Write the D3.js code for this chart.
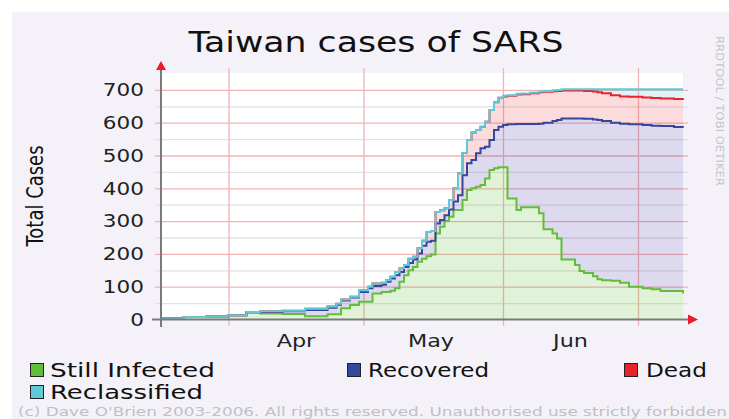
<!DOCTYPE html>
<html><head>
<meta charset="utf-8">
<script src="https://d3js.org/d3.v7.min.js"></script>
<style>
  body { margin: 0; background: #fff; }
  text { font-family: "DejaVu Sans", sans-serif; }
</style>
</head>
<body>
<svg id="chart" width="729" height="419"></svg>
<script>

// data (values per stacked layer, step changes)
const dates = ["2003-03-17","2003-03-22","2003-03-27","2003-04-01","2003-04-05","2003-04-08","2003-04-13",
  "2003-04-18","2003-04-23","2003-04-25","2003-04-26","2003-04-28","2003-04-30","2003-05-02","2003-05-03",
  "2003-05-05","2003-05-06","2003-05-07","2003-05-08","2003-05-09","2003-05-10","2003-05-11","2003-05-12",
  "2003-05-13","2003-05-14","2003-05-15","2003-05-16","2003-05-17","2003-05-18","2003-05-19","2003-05-20",
  "2003-05-21","2003-05-22","2003-05-23","2003-05-24","2003-05-25","2003-05-26","2003-05-27","2003-05-28",
  "2003-05-29","2003-05-30","2003-05-31","2003-06-01","2003-06-02","2003-06-04","2003-06-05","2003-06-07",
  "2003-06-09","2003-06-10","2003-06-12","2003-06-13","2003-06-14","2003-06-17","2003-06-18","2003-06-19",
  "2003-06-21","2003-06-22","2003-06-23","2003-06-25","2003-06-27","2003-06-29","2003-07-02","2003-07-04",
  "2003-07-06","2003-07-09","2003-07-11"];
const stillInfected = [3,8,10,13,21,18,17,10,16,16,34,44,54,54,79,84,84,88,95,115,135,150,160,176,185,193,198,
  262,283,300,313,334,334,364,395,400,405,410,430,456,461,464,464,369,334,342,342,324,275,262,247,183,166,148,
  142,132,123,120,118,112,100,95,92,87,87,79];
const recovered = [0,0,0,0,1,5,8,19,20,29,24,23,30,41,23,22,31,37,40,30,25,22,23,25,40,44,42,31,20,18,22,26,45,
  76,81,86,102,112,97,91,117,124,129,226,262,254,254,273,325,343,361,430,447,465,470,478,485,485,482,485,495,
  498,499,503,500,506];
const dead = [0,0,0,0,1,2,2,4,4,3,3,2,5,5,8,6,5,5,10,11,6,13,8,16,15,30,30,35,30,21,29,40,67,68,71,84,71,66,76,
  92,84,88,87,87,90,91,94,96,94,91,89,85,85,85,85,85,85,85,84,83,84,84,84,84,85,85];
const reclassified = [0,0,0,0,0,0,0,0,0,0,0,0,0,0,0,0,0,0,0,0,0,0,0,0,0,0,0,0,0,0,0,0,0,0,0,0,0,0,0,0,0,0,2,
  2,2,2,2,2,3,3,3,4,4,4,5,7,9,12,18,22,23,25,27,28,30,32];

const seriesKeys = ["infected","recovered","dead","reclassified"];
const seriesNames = ["Still Infected","Recovered","Dead","Reclassified"];
const lineColors = ["#62be38","#33479f","#e8232b","#62c9d7"];
const fillColors = ["rgba(98,190,56,0.2)","rgba(72,58,170,0.19)","rgba(236,40,52,0.17)","rgba(98,201,215,0.2)"];
const yTicks = [0,100,200,300,400,500,600,700];
const monthLabels = ["Apr","May","Jun"];

const parse = d3.timeParse("%Y-%m-%d");
const rows = dates.map((d,i) => ({date: parse(d), infected: stillInfected[i], recovered: recovered[i],
  dead: dead[i], reclassified: reclassified[i]}));

const svg = d3.select("#chart");
const sx = 1.24;   // the picture is stretched sideways, text too

svg.append("rect").attr("x",12).attr("y",12).attr("width",729).attr("height",419).attr("fill","#f4f2f8");

let x = d3.scaleTime().domain([parse("2003-03-17"), parse("2003-07-11")]).range([161,683]);
let y = d3.scaleLinear().domain([0,750]).range([319.5,73.5]);

svg.append("rect").attr("x",161).attr("y",73).attr("width",522).attr("height",246.5).attr("fill","#fff");

// gridlines
let minorGrid = d3.axisLeft(y).tickValues(d3.range(50,700,100)).tickSize(-533).tickFormat("");
let majorGrid = d3.axisLeft(y).tickValues(yTicks.slice(1)).tickSize(-533).tickFormat("");
let monthStarts = d3.timeMonth.range(x.domain()[0], x.domain()[1]);
let vGrid = d3.axisBottom(x).tickValues(monthStarts).tickSize(-258).tickFormat("");

svg.append("g").attr("class","grid minor").attr("transform","translate(155,0)").call(minorGrid);
svg.append("g").attr("class","grid major").attr("transform","translate(155,0)").call(majorGrid);
svg.append("g").attr("class","grid major").attr("transform","translate(0,326)").call(vGrid);
svg.selectAll(".grid .domain").remove();
svg.selectAll(".grid.minor line").attr("stroke","#e2e0e6").attr("stroke-width",1.3);
svg.selectAll(".grid.major line").attr("stroke","#f2b3b6").attr("stroke-width",1.3);

// stacked areas
let stacked = d3.stack().keys(seriesKeys)(rows);
let area = d3.area().curve(d3.curveStepAfter)
             .x(d => x(d.data.date)).y0(d => y(d[0])).y1(d => y(d[1]));
let line = d3.line().curve(d3.curveStepAfter)
             .x(d => x(d.data.date)).y(d => y(d[1]));

svg.append("g").selectAll("path").data(stacked).join("path")
   .attr("d", area).attr("fill", (d,i) => fillColors[i]);
svg.append("g").selectAll("path").data(stacked).join("path")
   .attr("d", line).attr("fill","none").attr("stroke",(d,i) => lineColors[i]).attr("stroke-width",2);

// axes
svg.append("line").attr("x1",152).attr("x2",689).attr("y1",319.5).attr("y2",319.5)
   .attr("stroke","#7a7a7a").attr("stroke-width",2);
svg.append("line").attr("x1",161).attr("x2",161).attr("y1",68).attr("y2",327)
   .attr("stroke","#7a7a7a").attr("stroke-width",2);
svg.append("path").attr("d","M156,70L166,70L161,61Z").attr("fill","#ee1c24");
svg.append("path").attr("d","M688,314.5L688,324.5L698,319.5Z").attr("fill","#ee1c24");

// y labels
svg.append("g").selectAll("text").data(yTicks).join("text")
   .attr("transform", d => `translate(144,${y(d)}) scale(${sx},1)`)
   .attr("dy","0.36em").attr("text-anchor","end")
   .attr("font-size",17.4).attr("fill","#222").text(d => d);

// month labels in the middle of each month
svg.append("g").selectAll("text").data(monthLabels).join("text")
   .attr("transform", (d,i) => `translate(${x(new Date(2003, 3+i, 16))},347) scale(${sx},1)`)
   .attr("text-anchor","middle").attr("font-size",18).attr("fill","#222").text(d => d);

// title & axis label
svg.append("text").attr("transform",`translate(376,52) scale(${sx},1)`)
   .attr("text-anchor","middle").attr("font-size",28).attr("fill","#111").text("Taiwan cases of SARS");
svg.append("text").attr("transform",`translate(43,196) scale(${sx},1) rotate(-90)`)
   .attr("text-anchor","middle").attr("font-size",18).attr("fill","#111").text("Total Cases");

svg.append("text").attr("transform",`translate(716,36) rotate(90)`)
   .attr("font-size",10).attr("fill","#c4c3c8").attr("textLength",150).attr("lengthAdjust","spacingAndGlyphs")
   .text("RRDTOOL / TOBI OETIKER");

// legend
const legendPos = [[30,370],[347,370],[624,370],[30,392]];
const legendTextX = [20,21,22,20];
const legendWidth = [165,121,61,153];
let leg = svg.append("g").selectAll("g").data(seriesNames).join("g")
   .attr("transform",(d,i) => `translate(${legendPos[i][0]},${legendPos[i][1]})`);
leg.append("rect").attr("x",0.5).attr("y",-6.5).attr("width",13).attr("height",13)
   .attr("fill",(d,i) => lineColors[i]).attr("stroke","#222").attr("stroke-width",1);
leg.append("text").attr("x",(d,i) => legendTextX[i]).attr("dy","0.36em")
   .attr("textLength",(d,i) => legendWidth[i]).attr("lengthAdjust","spacingAndGlyphs")
   .attr("font-size",19.5).attr("fill","#111").text(d => d);

svg.append("text").attr("x",18).attr("y",416).attr("font-size",12).attr("fill","#c0bfc5")
   .attr("textLength",709).attr("lengthAdjust","spacingAndGlyphs")
   .text("(c) Dave O'Brien  2003-2006.  All rights reserved.  Unauthorised use strictly forbidden");

</script>
</body></html>
